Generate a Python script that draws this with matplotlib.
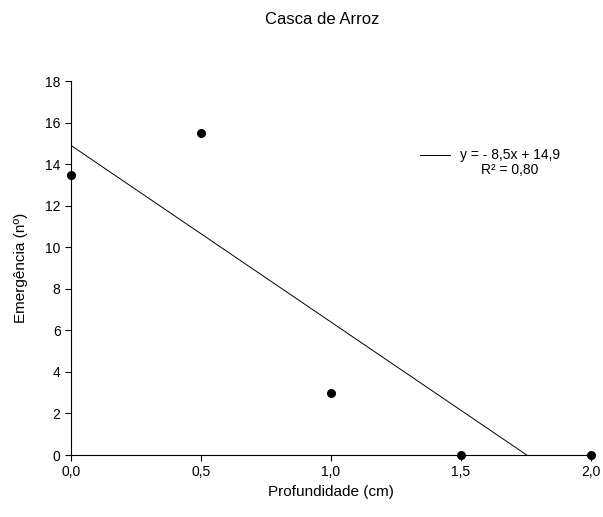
import numpy as np
from matplotlib import pyplot as plt

plt.rcParams['font.family'] = ['Liberation Sans', 'DejaVu Sans']

# Data
profundidade = [0.0, 0.5, 1.0, 1.5, 2.0]
emergencia = [13.5, 15.5, 3.0, 0.0, 0.0]
slope = -8.5
intercept = 14.9
r2_label = "R² = 0,80"
eq_label = "y = - 8,5x + 14,9"
x_ticks = [0.0, 0.5, 1.0, 1.5, 2.0]
x_ticklabels = ["0,0", "0,5", "1,0", "1,5", "2,0"]
y_ticks = [0, 2, 4, 6, 8, 10, 12, 14, 16, 18]

fig = plt.figure(figsize=(6.03, 5.17), dpi=100)
ax = fig.add_axes([0.1177, 0.1199, 0.8623, 0.7234])

# Scatter points
ax.scatter(profundidade, emergencia, s=30, color='black', zorder=3, clip_on=False)

# Regression line down to y = 0
x_end = -intercept / slope
xs = np.array([0.0, x_end])
ax.plot(xs, slope * xs + intercept, color='black', linewidth=0.7)

ax.set_xlim(0, 2)
ax.set_ylim(0, 18)
ax.set_xticks(x_ticks)
ax.set_xticklabels(x_ticklabels)
ax.set_yticks(y_ticks)
ax.tick_params(direction='out', length=4, width=0.8, labelsize=10)

ax.spines['top'].set_visible(False)
ax.spines['right'].set_visible(False)

ax.set_xlabel("Profundidade (cm)", fontsize=11, labelpad=4)
ax.set_ylabel("Emergência (nº)", fontsize=11, labelpad=12)

fig.text(0.534, 0.962, "Casca de Arroz", ha='center', va='center', fontsize=12)

# Legend-like annotation
ax.plot([0.697, 0.746], [0.700, 0.700], transform=fig.transFigure, color='black',
        linewidth=0.7, clip_on=False)
fig.text(0.846, 0.700, eq_label, ha='center', va='center', fontsize=10)
fig.text(0.846, 0.672, r2_label, ha='center', va='center', fontsize=10)

fig.savefig("out.png", dpi=100)
